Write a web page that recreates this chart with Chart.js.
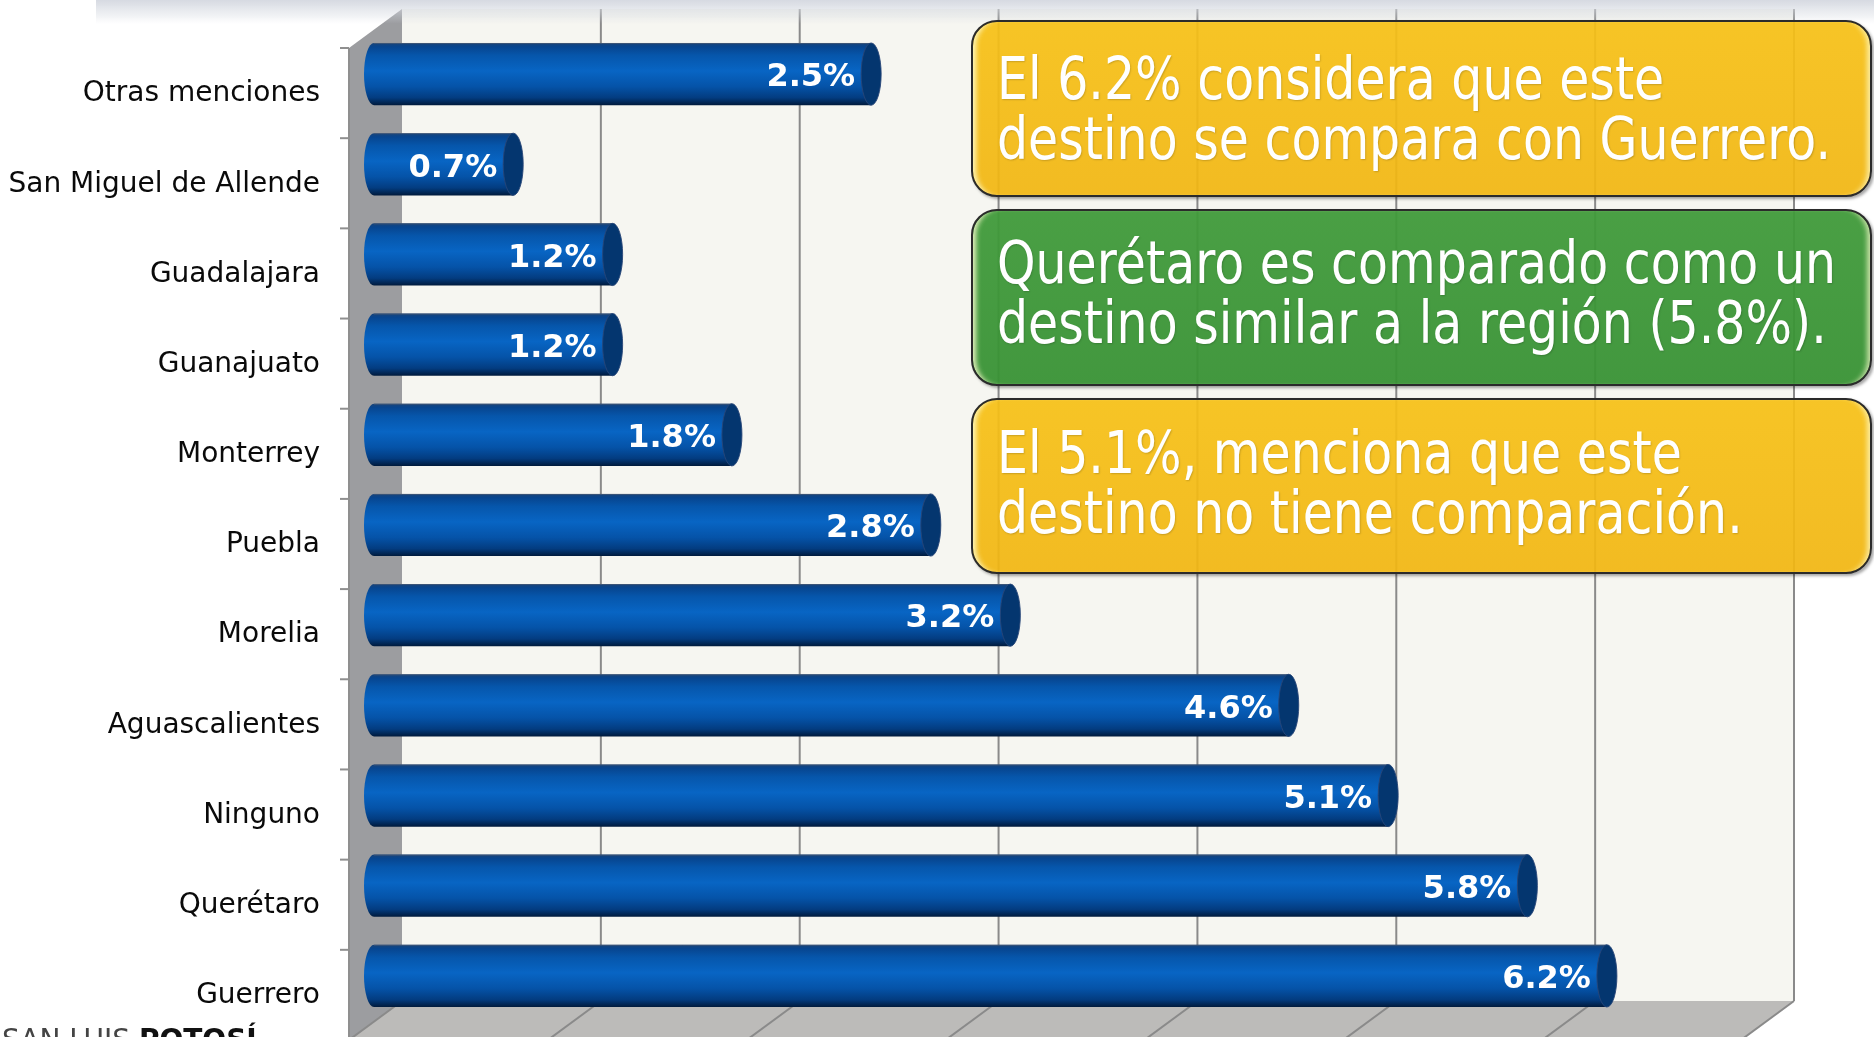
<!DOCTYPE html>
<html lang="es">
<head>
<meta charset="utf-8">
<title>Destinos comparables</title>
<script src="https://cdn.jsdelivr.net/npm/chart.js@4.4.1/dist/chart.umd.min.js"></script>
<style>
  html, body { margin: 0; padding: 0; background: #fff; overflow: hidden; }
  #stage { position: relative; width: 1874px; height: 1037px; overflow: hidden; font-family: 'DejaVu Sans', sans-serif; }
  #chart { position: absolute; left: 0; top: 0; }
  #banner {
    position: absolute; left: 96px; top: 0; width: 1778px; height: 24px;
    background: linear-gradient(rgba(212, 216, 224, 0.95), rgba(255, 255, 255, 0));
    pointer-events: none;
  }
  .callout {
    position: absolute; left: 971px; width: 901px; box-sizing: border-box;
    border: 2px solid #2b2b2b; border-radius: 26px; padding-left: 24px;
    color: #fff; font-size: 58px; line-height: 60px;
    text-shadow: 1px 1px 2px rgba(0, 0, 0, 0.18);
    box-shadow: inset 7px 0 5px -4px rgba(255, 255, 210, 0.85), inset -7px 0 5px -4px rgba(255, 255, 210, 0.7), 2px 2px 3px rgba(0, 0, 0, 0.35);
  }
  .callout.yellow { background: linear-gradient(rgba(246, 192, 22, 0.93), rgba(241, 182, 18, 0.93)); }
  .callout.green { background: linear-gradient(rgba(64, 154, 58, 0.95), rgba(56, 146, 52, 0.95)); }
  .callout .line { display: inline-block; white-space: nowrap; transform-origin: 0 0; }
  #logo {
    position: absolute; left: 2px; top: 1026px; font-size: 28px; line-height: 28px;
    color: #444; white-space: nowrap;
  }
  #logo b { color: #111; }
</style>
</head>
<body>
<div id="stage">
  <canvas id="chart" width="1874" height="1037"></canvas>
  <div id="banner"></div>

  <div class="callout yellow" style="top:20px; height:177px; padding-top:27px;">
    <span class="line">El 6.2% considera que este</span><br>
    <span class="line" id="fitLine">destino se compara con Guerrero.</span>
  </div>
  <div class="callout green" style="top:209px; height:177px; padding-top:22px;">
    <span class="line">Querétaro es comparado como un</span><br>
    <span class="line">destino similar a la región (5.8%).</span>
  </div>
  <div class="callout yellow" style="top:398px; height:176px; padding-top:23px;">
    <span class="line">El 5.1%, menciona que este</span><br>
    <span class="line">destino no tiene comparación.</span>
  </div>

  <div id="logo">SAN LUIS <b>POTOSÍ</b></div>
</div>

<script>
// Data
const categories = [
  'Otras menciones',
  'San Miguel de Allende',
  'Guadalajara',
  'Guanajuato',
  'Monterrey',
  'Puebla',
  'Morelia',
  'Aguascalientes',
  'Ninguno',
  'Querétaro',
  'Guerrero',
];
const percentages = [2.5, 0.7, 1.2, 1.2, 1.8, 2.8, 3.2, 4.6, 5.1, 5.8, 6.2];
const axisTicks = [0, 1, 2, 3, 4, 5, 6, 7];

// 3D box offsets, relative to the plane the bars sit in
const BACK = { dx: 28, dy: -20 };
const FRONT = { dx: -25, dy: 19 };
const BAR_THICKNESS = 0.69;
const CAP_RX = 10;

function barGradient(ctx, yc, h) {
  const g = ctx.createLinearGradient(0, yc - h / 2, 0, yc + h / 2);
  g.addColorStop(0, '#1b4477');
  g.addColorStop(0.06, '#07458f');
  g.addColorStop(0.2, '#0656ab');
  g.addColorStop(0.45, '#0865c4');
  g.addColorStop(0.7, '#0553a8');
  g.addColorStop(0.88, '#033c80');
  g.addColorStop(1, '#001a3c');
  return g;
}

function polygon(ctx, pts) {
  ctx.beginPath();
  ctx.moveTo(pts[0][0], pts[0][1]);
  pts.slice(1).forEach((p) => ctx.lineTo(p[0], p[1]));
  ctx.closePath();
  ctx.fill();
}

function line(ctx, x1, y1, x2, y2) {
  ctx.beginPath();
  ctx.moveTo(x1, y1);
  ctx.lineTo(x2, y2);
  ctx.stroke();
}

// Walls, floor and grid of the 3D box
const wallsPlugin = {
  id: 'walls',
  beforeDatasetsDraw(chart) {
    const { ctx, chartArea: a, scales } = chart;
    const xs = scales.x;
    const vmin = axisTicks[0];
    const vmax = axisTicks[axisTicks.length - 1];
    const bx = (v) => xs.getPixelForValue(v) + BACK.dx;
    const fx = (v) => xs.getPixelForValue(v) + FRONT.dx;
    const bTop = a.top + BACK.dy, bBot = a.bottom + BACK.dy;
    const fTop = a.top + FRONT.dy, fBot = a.bottom + FRONT.dy;

    ctx.save();
    ctx.fillStyle = '#f6f6f1';
    ctx.fillRect(bx(vmin), bTop, bx(vmax) - bx(vmin), bBot - bTop);

    ctx.fillStyle = '#9c9da0';
    polygon(ctx, [[fx(vmin), fTop], [bx(vmin), bTop], [bx(vmin), bBot], [fx(vmin), fBot]]);

    ctx.fillStyle = '#bcbbb9';
    polygon(ctx, [[fx(vmin), fBot], [bx(vmin), bBot], [bx(vmax), bBot], [fx(vmax), fBot]]);

    ctx.strokeStyle = '#8a8a8a';
    ctx.lineWidth = 2;
    axisTicks.forEach((v) => {
      if (v > vmin) line(ctx, bx(v), bTop, bx(v), bBot);
      line(ctx, bx(v), bBot, fx(v), fBot);
    });

    // front axis edge and category tick marks
    ctx.strokeStyle = '#8f8f8f';
    line(ctx, fx(vmin), fTop, fx(vmin), fBot);
    const band = (a.bottom - a.top) / categories.length;
    for (let i = 0; i <= categories.length; i++) {
      const yy = fTop + i * band;
      line(ctx, fx(vmin) - 9, yy, fx(vmin), yy);
    }
    ctx.restore();
  },
};

// Cylinder caps and value labels
const cylinderPlugin = {
  id: 'cylinder',
  afterDatasetsDraw(chart) {
    const { ctx } = chart;
    const meta = chart.getDatasetMeta(0);
    ctx.save();
    meta.data.forEach((bar, i) => {
      const { x, y, base, height } = bar.getProps(['x', 'y', 'base', 'height'], true);
      const h2 = height / 2;

      // rounded near end
      ctx.fillStyle = barGradient(ctx, y, height);
      ctx.beginPath();
      ctx.ellipse(base, y, CAP_RX, h2, 0, Math.PI / 2, Math.PI * 1.5);
      ctx.closePath();
      ctx.fill();

      // top rim
      ctx.strokeStyle = 'rgba(70, 90, 120, 0.8)';
      ctx.lineWidth = 1;
      line(ctx, base, y - h2 + 0.5, x, y - h2 + 0.5);

      // end face
      ctx.fillStyle = '#04366f';
      ctx.beginPath();
      ctx.ellipse(x, y, CAP_RX, h2, 0, 0, Math.PI * 2);
      ctx.fill();
      ctx.strokeStyle = 'rgba(40, 70, 120, 0.9)';
      ctx.stroke();

      ctx.fillStyle = '#ffffff';
      ctx.font = 'bold 32px "DejaVu Sans"';
      ctx.textAlign = 'right';
      ctx.textBaseline = 'middle';
      ctx.fillText(percentages[i].toFixed(1) + '%', x - 16, y + 4);
    });
    ctx.restore();
  },
};

new Chart(document.getElementById('chart'), {
  type: 'bar',
  data: {
    labels: categories,
    datasets: [
      {
        data: percentages,
        borderWidth: 0,
        categoryPercentage: 1,
        barPercentage: BAR_THICKNESS,
        backgroundColor: (c) => {
          const chart = c.chart;
          if (!chart.chartArea) return '#0560be';
          const a = chart.chartArea;
          const h = ((a.bottom - a.top) / categories.length) * BAR_THICKNESS;
          return barGradient(chart.ctx, chart.scales.y.getPixelForValue(c.dataIndex), h);
        },
      },
    ],
  },
  options: {
    indexAxis: 'y',
    responsive: false,
    animation: false,
    layout: { autoPadding: false, padding: { left: 0, top: 29, right: 108, bottom: 16 } },
    plugins: {
      legend: { display: false },
      tooltip: { enabled: false },
    },
    scales: {
      x: {
        display: false,
        min: axisTicks[0],
        max: axisTicks[axisTicks.length - 1],
      },
      y: {
        grid: { display: false, drawTicks: false },
        border: { display: false },
        ticks: {
          color: '#0a0a0a',
          padding: 54,
          labelOffset: 20,
          font: { family: 'DejaVu Sans', size: 28 },
        },
        afterFit(scale) {
          scale.width = 374;
          scale.paddingTop = 0;
          scale.paddingBottom = 0;
        },
      },
    },
  },
  plugins: [wallsPlugin, cylinderPlugin],
});

// squeeze callout text to the narrow face used in the original
const fitLine = document.getElementById('fitLine');
const k = 834 / fitLine.getBoundingClientRect().width;
document.querySelectorAll('.callout .line').forEach((el) => {
  el.style.transform = `scaleX(${k})`;
});
</script>
</body>
</html>
